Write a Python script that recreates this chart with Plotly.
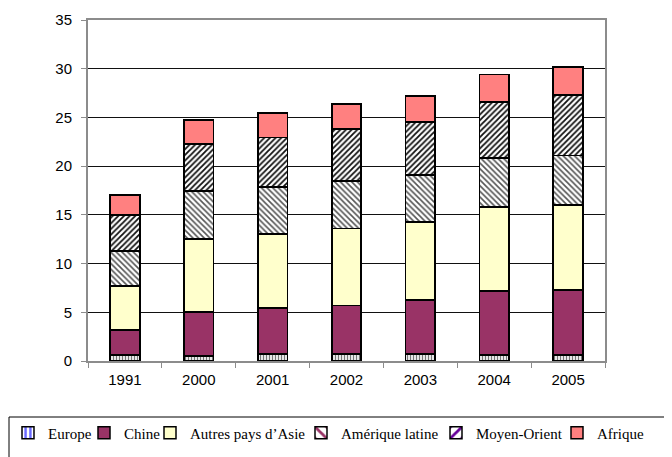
import plotly.graph_objects as go

years = ["1991", "2000", "2001", "2002", "2003", "2004", "2005"]
europe = [0.6, 0.55, 0.7, 0.7, 0.7, 0.6, 0.6]
chine = [2.6, 4.5, 4.7, 5.0, 5.6, 6.6, 6.7]
autres_asie = [4.5, 7.45, 7.6, 7.9, 8.0, 8.6, 8.7]
amerique_latine = [3.6, 4.95, 4.85, 4.9, 4.8, 5.0, 5.1]
moyen_orient = [3.7, 4.8, 5.1, 5.3, 5.4, 5.8, 6.2]
afrique = [2.0, 2.5, 2.5, 2.6, 2.7, 2.8, 2.9]

series_names = ["Europe", "Chine", "Autres pays d\u2019Asie", "Am\u00e9rique latine", "Moyen-Orient", "Afrique"]
series_values = [europe, chine, autres_asie, amerique_latine, moyen_orient, afrique]

# page offset of the figure (default body margin)
OFF = 8
W, H = 672 - OFF, 457 - OFF
PLOT_L, PLOT_T, PLOT_R, PLOT_B = 88, 20, 605, 361  # page pixels
L = PLOT_L - OFF
T = PLOT_T - OFF
pw = PLOT_R - PLOT_L
ph = PLOT_B - PLOT_T
R = W - L - pw
B = H - T - ph

def px_x(p):
    return (p - PLOT_L) / pw

def px_y(p):
    return (PLOT_B - p) / ph

def cx_x(p):
    return max(0.0, (p - OFF) / W)

def cx_y(p):
    return 1 - (p - OFF) / H

bar_markers = [
    dict(color="white", line=dict(color="black", width=1.8),
         pattern=dict(shape="|", fgcolor="#777777", bgcolor="white", size=3, solidity=0.45, fillmode="replace")),
    dict(color="#993366", line=dict(color="black", width=1.8)),
    dict(color="#FFFFCC", line=dict(color="black", width=1.8)),
    dict(color="white", line=dict(color="black", width=1.8),
         pattern=dict(shape="\\", fgcolor="#555555", bgcolor="white", size=4, solidity=0.4, fillmode="replace")),
    dict(color="white", line=dict(color="black", width=1.8),
         pattern=dict(shape="/", fgcolor="#111111", bgcolor="white", size=4, solidity=0.45, fillmode="replace")),
    dict(color="#FF8080", line=dict(color="black", width=1.8)),
]

legend_markers = [
    dict(color="white", line=dict(color="black", width=1.5),
         pattern=dict(shape="|", fgcolor="#6666FF", bgcolor="white", size=6, solidity=0.5, fillmode="replace")),
    dict(color="#993366", line=dict(color="black", width=1.5)),
    dict(color="#FFFFCC", line=dict(color="black", width=1.5)),
    dict(color="white", line=dict(color="black", width=1.5),
         pattern=dict(shape="\\", fgcolor="#993366", bgcolor="white", size=10, solidity=0.35, fillmode="replace")),
    dict(color="white", line=dict(color="black", width=1.5),
         pattern=dict(shape="/", fgcolor="#660099", bgcolor="white", size=10, solidity=0.35, fillmode="replace")),
    dict(color="#FF8080", line=dict(color="black", width=1.5)),
]

fig = go.Figure()
for name, vals, mk in zip(series_names, series_values, bar_markers):
    fig.add_trace(go.Bar(x=years, y=vals, name=name, marker=mk, showlegend=False))

legend_ids = ["legend", "legend2", "legend3", "legend4", "legend5", "legend6"]
icon_centers = [21, 105, 171, 322, 457, 578]  # page pixels
for name, mk, lid in zip(series_names, legend_markers, legend_ids):
    fig.add_trace(go.Bar(x=[None], y=[None], name=name, marker=mk, legend=lid, showlegend=True))

legend_common = dict(orientation="h", xanchor="left", yanchor="middle",
                     xref="container", yref="container", y=cx_y(433),
                     bgcolor="rgba(0,0,0,0)", borderwidth=0,
                     font=dict(family="Liberation Serif, Times New Roman, serif", size=15, color="black"),
                     itemwidth=30)
layout_legends = {}
for lid, cx in zip(legend_ids, icon_centers):
    layout_legends[lid] = dict(legend_common, x=cx_x(cx - 21))

fig.update_layout(
    width=W, height=H,
    margin=dict(l=L, r=R, t=T, b=B, pad=0, autoexpand=False),
    barmode="stack",
    bargap=0.6,
    plot_bgcolor="white",
    paper_bgcolor="white",
    font=dict(family="Liberation Sans, Arial, sans-serif", size=15, color="black"),
    **layout_legends,
)

fig.update_xaxes(
    type="category",
    showline=True, linecolor="#8c8c8c", linewidth=2, mirror=True,
    ticks="outside", tickson="boundaries", ticklen=5, tickcolor="#8c8c8c", tickwidth=1,
    showgrid=False, ticklabelstandoff=4,
    tickfont=dict(family="Liberation Sans, Arial, sans-serif", size=15, color="black"),
)
fig.update_yaxes(
    range=[0, 35], dtick=5,
    showline=True, linecolor="#8c8c8c", linewidth=2, mirror=True,
    ticks="outside", ticklen=5, tickcolor="#8c8c8c", tickwidth=1,
    showgrid=True, gridcolor="#111111", gridwidth=1,
    zeroline=False, ticklabelstandoff=6,
    tickfont=dict(family="Liberation Sans, Arial, sans-serif", size=15, color="black"),
)

fig.add_shape(type="rect", xref="paper", yref="paper",
              x0=px_x(9), x1=px_x(700), y0=px_y(417), y1=px_y(480),
              line=dict(color="black", width=1), fillcolor="rgba(0,0,0,0)", layer="below")

fig.write_html("out.html")
